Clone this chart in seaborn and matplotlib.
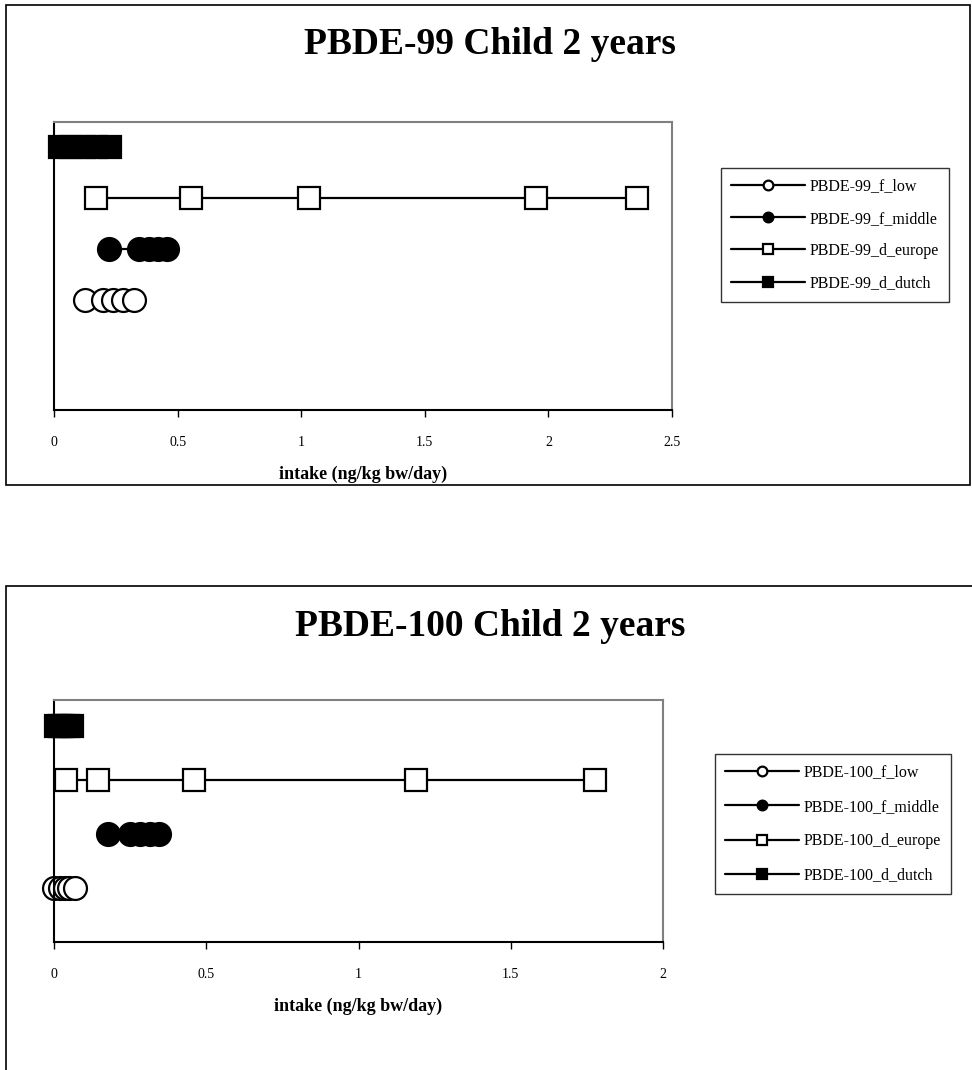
import matplotlib
matplotlib.use("Agg")
import matplotlib.pyplot as plt
from matplotlib.lines import Line2D
from matplotlib.patches import Rectangle
import seaborn as sns
import pandas as pd

# intake values (ng/kg bw/day)
x99_low = [0.126, 0.20, 0.24, 0.28, 0.324]
x99_middle = [0.223, 0.342, 0.385, 0.42, 0.456]
x99_europe = [0.17, 0.555, 1.03, 1.95, 2.36]
x99_dutch = [0.026, 0.07, 0.12, 0.17, 0.225]

x100_low = [0.0, 0.02, 0.035, 0.05, 0.07]
x100_middle = [0.177, 0.25, 0.283, 0.316, 0.345]
x100_europe = [0.038, 0.145, 0.461, 1.19, 1.776]
x100_dutch = [0.005, 0.02, 0.03, 0.045, 0.058]

series_names = ["f_low", "f_middle", "d_europe", "d_dutch"]
series_rows = [1, 2, 3, 4]
ticks99 = [0, 0.5, 1, 1.5, 2, 2.5]
ticks100 = [0, 0.5, 1, 1.5, 2]

sns.set_style("white")
plt.rcParams["font.family"] = ["Liberation Serif", "DejaVu Serif"]
plt.rcParams["text.color"] = "black"
plt.rcParams["axes.labelcolor"] = "black"
plt.rcParams["xtick.color"] = "black"

styles = {
    "f_low": dict(marker="o", markerfacecolor="white"),
    "f_middle": dict(marker="o", markerfacecolor="black"),
    "d_europe": dict(marker="s", markerfacecolor="white"),
    "d_dutch": dict(marker="s", markerfacecolor="black"),
}


def make_df(prefix, series):
    rows = []
    for name, row, xs in zip(series_names, series_rows, series):
        for x in xs:
            rows.append({"series": prefix + "_" + name, "key": name, "row": row, "intake": x})
    return pd.DataFrame(rows)


def draw_panel(fig, rect, prefix, series, ticks, xmax, ylim, legend_xy, spacing):
    ax = fig.add_axes(rect)
    df = make_df(prefix, series)
    for name in series_names:
        sub = df[df["key"] == name]
        sns.lineplot(data=sub, x="intake", y="row", ax=ax, color="black",
                     linewidth=1.6, markersize=16.5, markeredgecolor="black",
                     markeredgewidth=1.6, estimator=None, sort=False,
                     legend=False, **styles[name])
    ax.set_xlim(0, xmax)
    ax.set_ylim(*ylim)
    ax.set_xticks(ticks)
    ax.set_xticklabels([f"{t:g}" for t in ticks], fontsize=10)
    ax.set_yticks([])
    ax.set_ylabel("")
    ax.set_xlabel("intake (ng/kg bw/day)", fontsize=13, fontweight="bold", labelpad=12)
    ax.tick_params(axis="x", direction="out", length=5, width=1, pad=14, bottom=True)
    for side in ["top", "right"]:
        ax.spines[side].set_color("#808080")
        ax.spines[side].set_linewidth(1.5)
    for side in ["left", "bottom"]:
        ax.spines[side].set_color("black")
        ax.spines[side].set_linewidth(1.5)
    for m in ax.lines:
        m.set_clip_on(False)

    handles = [Line2D([0], [0], color="black", linewidth=1.6, markersize=7,
                      markeredgecolor="black", markeredgewidth=1.6, **styles[n])
               for n in series_names]
    labels = [prefix + "_" + n for n in series_names]
    leg = fig.legend(handles, labels, loc="upper left", bbox_to_anchor=legend_xy,
                     frameon=True, fancybox=False, edgecolor="black", fontsize=11.5,
                     handlelength=4.6, labelspacing=spacing, borderpad=0.65,
                     handletextpad=0.3, borderaxespad=0)
    leg.get_frame().set_linewidth(1.0)
    return ax


W, H = 972, 1070
fig = plt.figure(figsize=(W / 100, H / 100), dpi=100)

# outer chart frames
fig.patches.append(Rectangle((6 / W, 1 - 485 / H), 964 / W, 480 / H, transform=fig.transFigure,
                             fill=False, edgecolor="black", linewidth=1.2))
fig.patches.append(Rectangle((6 / W, -0.01), 1.0, 1 - 586 / H + 0.01, transform=fig.transFigure,
                             fill=False, edgecolor="black", linewidth=1.2))

fig.text(490 / W, 1 - 54 / H, "PBDE-99 Child 2 years", ha="center", va="baseline",
         fontsize=27, fontweight="bold")
fig.text(490 / W, 1 - 636 / H, "PBDE-100 Child 2 years", ha="center", va="baseline",
         fontsize=27, fontweight="bold")

draw_panel(fig, [54 / W, 1 - 410 / H, 618 / W, 288 / H], "PBDE-99",
           [x99_low, x99_middle, x99_europe, x99_dutch], ticks99, 2.5,
           (-1.15, 4.49), (721 / W, 1 - 168 / H), 1.02)
draw_panel(fig, [54 / W, 1 - 942 / H, 609 / W, 242 / H], "PBDE-100",
           [x100_low, x100_middle, x100_europe, x100_dutch], ticks100, 2.0,
           (0.0, 4.48), (715 / W, 1 - 754 / H), 1.15)

fig.savefig("out.png", dpi=100)
